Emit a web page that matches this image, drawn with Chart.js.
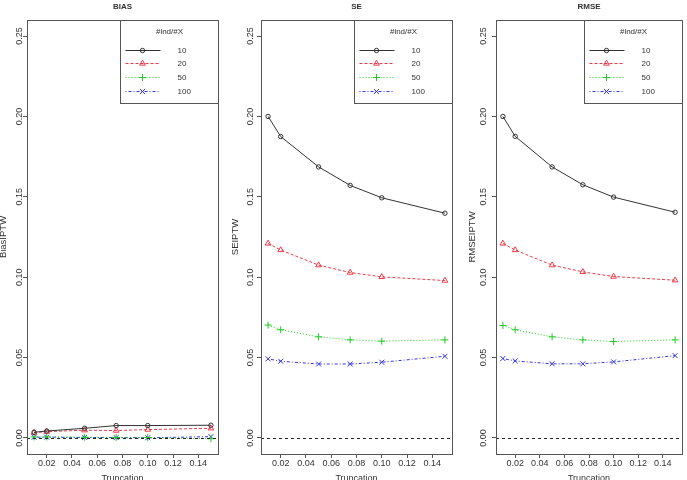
<!DOCTYPE html>
<html><head><meta charset="utf-8">
<script src="https://cdn.jsdelivr.net/npm/chart.js@4/dist/chart.umd.min.js"></script>
<style>
html,body{margin:0;padding:0;background:#fff;overflow:hidden}
#wrap{position:relative;width:687px;height:480px;background:#fff}
canvas{position:absolute;left:0;top:0}
</style></head>
<body><div id="wrap">
<canvas id="c1" width="687" height="480"></canvas>
<canvas id="c2" width="687" height="480"></canvas>
<canvas id="c3" width="687" height="480"></canvas>
</div>
<script>
// ---- data ----
const truncation = [0.01, 0.02, 0.05, 0.075, 0.10, 0.15];
const groups = ['10', '20', '50', '100'];
const xTickValues = [0.02, 0.04, 0.06, 0.08, 0.10, 0.12, 0.14];
const yTickValues = [0.00, 0.05, 0.10, 0.15, 0.20, 0.25];

const bias10  = [0.0035, 0.0043, 0.0060, 0.0077, 0.0077, 0.0079];
const bias20  = [0.0033, 0.0039, 0.0048, 0.0046, 0.0052, 0.0060];
const bias50  = [0.0006, 0.0006, 0.0004, 0.0003, 0.0002, -0.0005];
const bias100 = [0.0004, 0.0005, 0.0003, 0.0002, 0.0001, 0.0008];

const se10  = [0.2000, 0.1875, 0.1686, 0.1571, 0.1494, 0.1398];
const se20  = [0.1210, 0.1169, 0.1075, 0.1029, 0.1002, 0.0979];
const se50  = [0.0702, 0.0673, 0.0629, 0.0610, 0.0602, 0.0610];
const se100 = [0.0492, 0.0477, 0.0460, 0.0460, 0.0471, 0.0508];

const rmse10  = [0.2000, 0.1876, 0.1686, 0.1575, 0.1498, 0.1404];
const rmse20  = [0.1210, 0.1169, 0.1075, 0.1033, 0.1004, 0.0981];
const rmse50  = [0.0700, 0.0673, 0.0629, 0.0610, 0.0600, 0.0610];
const rmse100 = [0.0494, 0.0479, 0.0461, 0.0461, 0.0473, 0.0512];

const panelTitles = ['BIAS', 'SE', 'RMSE'];
const yTitles = ['BiasIPTW', 'SEIPTW', 'RMSEIPTW'];
const xTitle = 'Truncation';
const legendTitle = '#ind/#X';

// ---- styles / layout ----
const FONT = "'Liberation Sans', Arial, Helvetica, sans-serif";
const TXT = '#333';
const AX = '#555';
const styles = [
  {color: '#333333', dash: [],            point: 'circle',   r: 2.2},
  {color: '#f03a4a', dash: [3, 2],        point: 'triangle', r: 3.3},
  {color: '#22c822', dash: [1, 2],        point: 'cross',    r: 3.5},
  {color: '#3434e6', dash: [1, 2, 3, 2],  point: 'crossRot', r: 3.5}
];
const panels = [
  {id: 'c1', series: [bias10, bias20, bias50, bias100], padL: 0,   yW: 27, padR: 469, yTitlePad: -2.2, yTickPad: -5.75},
  {id: 'c2', series: [se10, se20, se50, se100],         padL: 230, yW: 31, padR: 235, yTitlePad: -0.2, yTickPad: -2.75},
  {id: 'c3', series: [rmse10, rmse20, rmse50, rmse100], padL: 460, yW: 36, padR: 1,   yTitlePad: 6.3,  yTickPad: -0.75}
];

const framePlugin = {
  id: 'rframe',
  afterDatasetsDraw(chart) {
    const {ctx, chartArea: a, scales: {y}} = chart;
    ctx.save();
    // zero reference line
    const y0 = Math.round(y.getPixelForValue(0)) + 0.5;
    ctx.lineWidth = 1;
    ctx.strokeStyle = '#222';
    ctx.setLineDash([3, 3]);
    ctx.beginPath(); ctx.moveTo(a.left, y0); ctx.lineTo(a.right, y0); ctx.stroke();
    ctx.setLineDash([]);
    // box
    ctx.strokeStyle = AX;
    const L = Math.round(a.left) + 0.5, T = Math.round(a.top) + 0.5;
    const R = Math.round(a.right) + 0.5, B = Math.round(a.bottom) + 0.5;
    ctx.strokeRect(L, T, R - L, B - T);
    // legend
    const W = 98, H = 83;
    const lx = R - W, ly = T;
    ctx.fillStyle = '#fff';
    ctx.fillRect(lx, ly, W, H);
    ctx.strokeStyle = AX;
    ctx.strokeRect(lx, ly, W, H);
    ctx.fillStyle = TXT;
    ctx.font = '8px ' + FONT;
    ctx.textAlign = 'center';
    ctx.textBaseline = 'middle';
    ctx.fillText(legendTitle, lx + W / 2, ly + 11.5);
    chart.data.datasets.forEach((ds, i) => {
      const yy = Math.round(ly + 29 + i * 13.75) + 0.5;
      ctx.strokeStyle = ds.borderColor;
      ctx.lineWidth = 1;
      ctx.setLineDash(ds.borderDash || []);
      ctx.beginPath(); ctx.moveTo(lx + 5, yy); ctx.lineTo(lx + 40, yy); ctx.stroke();
      ctx.setLineDash([]);
      ctx.fillStyle = 'rgba(0,0,0,0)';
      Chart.helpers.drawPoint(ctx, {pointStyle: ds.pointStyle, radius: ds.pointRadius, borderWidth: 1, rotation: 0}, lx + 22, yy);
      ctx.fillStyle = TXT;
      ctx.textAlign = 'left';
      ctx.fillText(ds.label, lx + 57, yy);
    });
    ctx.restore();
  }
};

panels.forEach((p, k) => {
  const datasets = p.series.map((vals, i) => ({
    label: groups[i],
    data: truncation.map((t, j) => ({x: t, y: vals[j]})),
    borderColor: styles[i].color,
    borderDash: styles[i].dash,
    borderWidth: 1,
    pointStyle: styles[i].point,
    pointRadius: styles[i].r,
    pointBorderWidth: 1,
    pointBorderColor: styles[i].color,
    pointBackgroundColor: 'rgba(0,0,0,0)',
    tension: 0,
    fill: false
  }));
  new Chart(document.getElementById(p.id), {
    type: 'line',
    data: {datasets},
    plugins: [framePlugin],
    options: {
      responsive: false,
      animation: false,
      devicePixelRatio: 1,
      events: [],
      layout: {padding: {left: p.padL, right: p.padR, top: 0, bottom: 0}},
      plugins: {
        legend: {display: false},
        tooltip: {enabled: false},
        title: {
          display: true, text: panelTitles[k], fullSize: false,
          color: TXT, font: {family: FONT, size: 8, weight: 'bold'},
          padding: {top: 2.2, bottom: 8.2}
        }
      },
      scales: {
        x: {
          type: 'linear', min: 0.0044, max: 0.1556,
          afterBuildTicks: s => { s.ticks = xTickValues.map(v => ({value: v})); },
          afterFit: s => { s.height = 26; },
          grid: {display: true, drawOnChartArea: false, drawTicks: true, tickLength: 4, color: AX},
          border: {display: true, color: AX},
          ticks: {color: TXT, font: {family: FONT, size: 9}, padding: 0, maxRotation: 0, autoSkip: false,
                  callback: v => Number(v).toFixed(2)},
          title: {display: true, text: xTitle, color: TXT, font: {family: FONT, size: 9},
                  padding: {top: 0, bottom: -3.8}}
        },
        y: {
          type: 'linear', min: -0.01, max: 0.26,
          afterBuildTicks: s => { s.ticks = yTickValues.map(v => ({value: v})); },
          afterFit: s => { s.width = p.yW; },
          grid: {display: true, drawOnChartArea: false, drawTicks: true, tickLength: 4, color: AX},
          border: {display: true, color: AX},
          ticks: {color: TXT, font: {family: FONT, size: 9}, padding: p.yTickPad, minRotation: 90, maxRotation: 90,
                  crossAlign: 'center', autoSkip: false, callback: v => Number(v).toFixed(2)},
          title: {display: true, text: yTitles[k], color: TXT, font: {family: FONT, size: 9.5},
                  padding: {top: p.yTitlePad, bottom: 0}}
        }
      }
    }
  });
});
</script>
</body></html>
